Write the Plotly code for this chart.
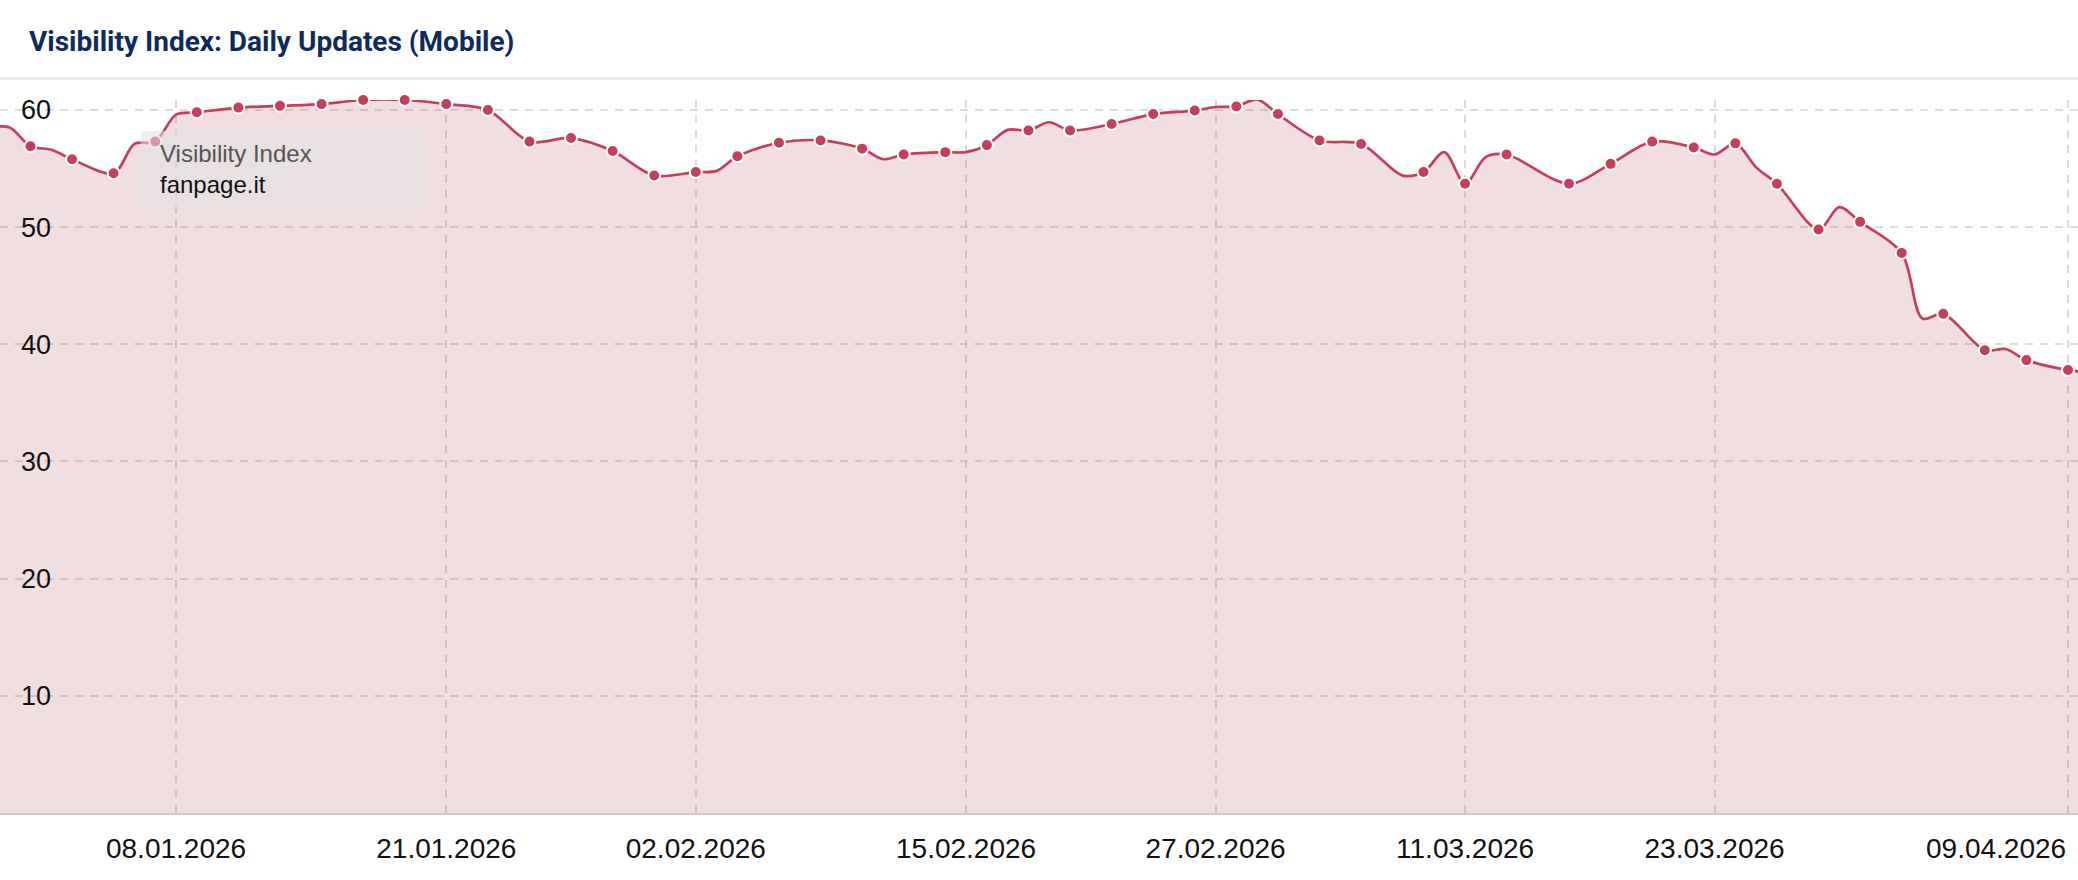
import pandas as pd
import plotly.graph_objects as go

# ---------------- data ----------------
marked_dates = [
    "2026-01-01", "2026-01-03", "2026-01-05", "2026-01-07", "2026-01-09", "2026-01-11",
    "2026-01-13", "2026-01-15", "2026-01-17", "2026-01-19", "2026-01-21", "2026-01-23",
    "2026-01-25", "2026-01-27", "2026-01-29", "2026-01-31",
    "2026-02-02", "2026-02-04", "2026-02-06", "2026-02-08", "2026-02-10", "2026-02-12",
    "2026-02-14", "2026-02-16", "2026-02-18", "2026-02-20", "2026-02-22", "2026-02-24",
    "2026-02-26", "2026-02-28",
    "2026-03-02", "2026-03-04", "2026-03-06", "2026-03-09", "2026-03-11", "2026-03-13",
    "2026-03-16", "2026-03-18", "2026-03-20", "2026-03-22", "2026-03-24", "2026-03-26",
    "2026-03-28", "2026-03-30", "2026-04-01", "2026-04-03", "2026-04-05", "2026-04-07",
    "2026-04-09",
]
marked_values = [
    56.9, 55.8, 54.6, 57.3, 59.8, 60.2,
    60.35, 60.5, 60.85, 60.85, 60.5, 60.0,
    57.3, 57.6, 56.5, 54.4,
    54.7, 56.05, 57.2, 57.4, 56.7, 56.2,
    56.4, 57.0, 58.25, 58.25, 58.8, 59.65,
    59.95, 60.3,
    59.65, 57.4, 57.1, 54.7, 53.7, 56.2,
    53.7, 55.4, 57.3, 56.8, 57.15, 53.7,
    49.8, 50.45, 47.8, 42.6, 39.5, 38.65,
    37.8,
]
# daily values between markers (no marker drawn for these days)
between_dates = [
    "2025-12-30", "2025-12-31", "2026-01-02", "2026-01-06", "2026-01-08", "2026-02-03",
    "2026-02-11", "2026-02-15", "2026-02-17", "2026-02-19", "2026-02-27", "2026-03-01",
    "2026-03-08", "2026-03-10", "2026-03-12", "2026-03-23", "2026-03-25", "2026-03-29",
    "2026-04-02", "2026-04-06", "2026-04-10",
]
between_values = [
    58.5, 58.5, 56.6, 57.1, 59.6, 54.8,
    55.8, 56.4, 58.3, 58.95, 60.25, 60.9,
    54.4, 56.4, 56.0, 56.2, 55.1, 51.7,
    42.2, 39.6, 37.6,
]

tick_dates = ["2026-01-08", "2026-01-21", "2026-02-02", "2026-02-15",
              "2026-02-27", "2026-03-11", "2026-03-23", "2026-04-09"]
tick_labels = ["08.01.2026", "21.01.2026", "02.02.2026", "15.02.2026",
               "27.02.2026", "11.03.2026", "23.03.2026", "09.04.2026"]
y_ticks = [10, 20, 30, 40, 50, 60]
y_labels = ["10", "20", "30", "40", "50", "60"]

series_name = "Visibility Index"
domain_name = "fanpage.it"
hover_date = "2026-01-07"
title_text = "Visibility Index: Daily Updates (Mobile)"

# ---------------- build ----------------
line_df = pd.DataFrame({
    "date": pd.to_datetime(marked_dates + between_dates),
    "value": marked_values + between_values,
}).sort_values("date")

LINE = "#c63f5a"
FILL = "rgba(182,82,98,0.19)"
GRID = "#dcdcdc"
TXT = "#111111"
FONT = "Liberation Sans, Arial"

fig = go.Figure()
fig.add_trace(go.Scatter(
    x=line_df["date"], y=line_df["value"], mode="lines",
    line=dict(color=LINE, width=2.7, shape="spline", smoothing=0.9),
    fill="tozeroy", fillcolor=FILL, hoverinfo="skip", showlegend=False,
))
fig.add_trace(go.Scatter(
    x=pd.to_datetime(marked_dates), y=marked_values, mode="markers",
    marker=dict(color=LINE, size=12, line=dict(color="white", width=2)),
    cliponaxis=False, hoverinfo="skip", showlegend=False,
))

hover_val = marked_values[marked_dates.index(hover_date)]

fig.update_layout(
    width=2078, height=880,
    margin=dict(l=0, r=0, t=100, b=67),
    paper_bgcolor="white", plot_bgcolor="white",
    title=dict(text=title_text, x=29 / 2078, xanchor="left", xref="paper",
               y=1 - 41 / 880, yanchor="middle", yref="container",
               font=dict(family="Roboto", size=28, color="#0f2a5c", weight=700)),
    xaxis=dict(
        type="date",
        range=["2025-12-30 12:49", "2026-04-09 11:32"],
        tickvals=pd.to_datetime(tick_dates),
        ticktext=tick_labels[:-1] + [""],
        showgrid=True, gridcolor=GRID, gridwidth=2, griddash="8px,7px",
        showline=True, linecolor="#d9c6c9", linewidth=2,
        zeroline=False, ticks="",
        tickfont=dict(family=FONT, size=28, color=TXT),
        ticklabelstandoff=9,
        fixedrange=True,
    ),
    yaxis=dict(
        range=[0, 60.85],
        tickvals=y_ticks, ticktext=y_labels,
        ticklabelposition="inside", ticklabeloverflow="allow",
        showgrid=True, gridcolor=GRID, gridwidth=2, griddash="8px,7px",
        zeroline=False, showline=False, ticks="",
        tickfont=dict(family=FONT, size=27, color=TXT),
        ticklabelstandoff=18,
        fixedrange=True,
    ),
    hovermode=False,
)

# separator line under title
fig.add_shape(type="line", xref="paper", yref="paper", x0=0, x1=1,
              y0=(813 - 78.5) / 713, y1=(813 - 78.5) / 713,
              line=dict(color="#ebebeb", width=3), layer="above")

# last x label, kept inside the chart (right aligned)
fig.add_annotation(x=pd.to_datetime(tick_dates[-1]), xref="x", y=0, yref="paper",
                   text=tick_labels[-1], showarrow=False, xanchor="right",
                   yanchor="middle", yshift=-35.5,
                   font=dict(family=FONT, size=28, color=TXT))

# tooltip box anchored at the hovered point
r = 6
x0, x1, y0, y1 = -14.7, 271.3, -68, 10.6
path = (f"M {x0 + r},{y1} L {x1 - r},{y1} Q {x1},{y1} {x1},{y1 - r} "
        f"L {x1},{y0 + r} Q {x1},{y0} {x1 - r},{y0} L {x0 + r},{y0} "
        f"Q {x0},{y0} {x0},{y0 + r} L {x0},{y1 - r} Q {x0},{y1} {x0 + r},{y1} Z")
fig.add_shape(type="path", path=path, xref="x", yref="y",
              xsizemode="pixel", ysizemode="pixel",
              xanchor=pd.to_datetime(hover_date), yanchor=hover_val,
              fillcolor="rgba(226,226,226,0.55)", line=dict(width=0), layer="above")
fig.add_annotation(x=pd.to_datetime(hover_date), y=hover_val, xref="x", yref="y",
                   text=f"<span style='color:#555555'>{series_name}</span><br>"
                        f"<span style='color:#111111'>{domain_name}</span>",
                   showarrow=False, xanchor="left", yanchor="top", align="left",
                   xshift=3, yshift=4,
                   font=dict(family=FONT, size=24))

fig.write_html("out.html", config={"displayModeBar": False},
               post_script="document.body.style.margin='0';document.body.style.overflow='hidden';")
